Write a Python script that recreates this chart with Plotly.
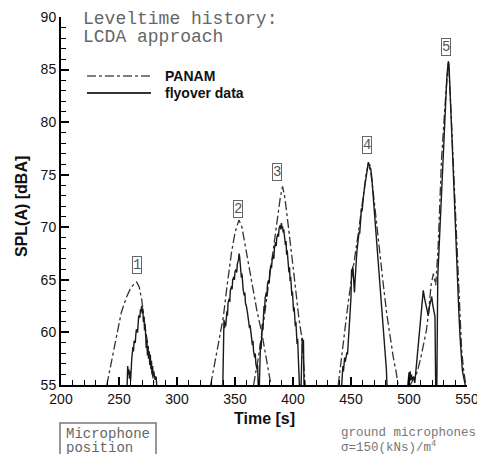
import plotly.graph_objects as go

# ---------------- data ----------------
panam_t = [239.5, 244, 248, 252, 256.6, 260, 263, 265.2, 267.5, 269.6, 272.4, 274.5, 276.7, 278.5, 280.0, None,
           329, 332, 335, 338, 340, 343, 347, 350, 353.4, 356, 358.6, 362, 365.8, 369, 373, 377, 380, 381, None,
           366, 370, 374, 378, 382, 386, 389, 391, 393, 395, 397.4, 400, 403, 405, 407.5, 409, 410.5, None,
           439, 442, 445, 448, 452, 456, 460, 463, 465, 467, 469, 472, 475, 478, 480.8, 483.5, 486.5, 489, 490.5, None,
           501, 504, 507, 510, 513, 515, 517, 519, 521, 522, 523, 525, 528, 531, 534, 536, 538, 540, 542.5, 544, 545.4, 547, 548, 549]
panam_y = [55.0, 57.6, 59.9, 61.9, 63.4, 64.2, 64.6, 64.8, 64.3, 63.1, 60.6, 59.0, 57.4, 56.2, 55.2, None,
           55.0, 56.8, 58.5, 60.2, 61.5, 64.3, 67.6, 69.5, 70.7, 70.0, 68.4, 66.2, 64.0, 62.0, 60.0, 57.3, 55.5, 55.0, None,
           55.0, 57.5, 60.5, 63.8, 67.0, 70.3, 72.8, 73.9, 72.8, 71.0, 69.0, 66.3, 63.4, 61.4, 59.6, 57.5, 55.0, None,
           55.0, 57.5, 60.5, 63.2, 66.0, 69.2, 72.5, 75.0, 76.1, 75.3, 73.5, 70.3, 67.2, 64.4, 61.8, 59.6, 57.6, 56.2, 55.0, None,
           55.0, 55.6, 56.2, 57.5, 59.0, 60.2, 62.0, 64.5, 65.6, 65.0, 64.5, 67.8, 76.4, 81.5, 85.9, 81.5, 76.4, 70.8, 64.7, 61.0, 58.3, 56.5, 55.7, 55.0]

fly_t = [257, 257.5, 258, 258.5, 259, 259.5, 260, 260.5, 261, 262, 262.5, 263, 264, 264.5, 265, 266, 266.5, 267, 268,
         268.5, 269, 269.5, 270, 270.5, 271, 271.5, 272, 272.5, 273, 273.5, 274, 274.5, 275, 275.5, 276, 276.5, 277,
         277.5, 278, 278.5, 279, 279.5, 280, 281, 282, 282.5, None,
         339.5, 340, 340.5, 341, 341.5, 342, 343, 343.5, 344, 345, 345.5, 346, 347, 347.5, 348, 349, 349.5, 350, 351,
         351.5, 352, 353, 353.5, 354, 354.5, 355, 355.5, 356, 356.5, 357, 358, 358.5, 359, 360, 361, 362, 362.5, 363,
         364, 365, 365.5, 366, 367, 367.5, 368, 369, 369.5, 370, 371,
         371.5, 372, 372.5, 373, 373.5, 374, 374.5, 375, 375.5, 376, 377, 377.5, 378, 379, 379.5, 380, 381, 381.5, 382,
         383, 383.5, 384, 385, 385.5, 386, 387, 387.5, 388, 389, 389.5, 390, 390.5, 391, 391.5, 392, 393, 393.5, 394,
         394.5, 395, 396, 396.5, 397, 397.5, 398, 398.5, 399, 399.5, 400, 400.5, 401, 401.5, 402, 402.5, 403, 403.5,
         404, 404.5, 405, 405.5, 407, 407.5, 408, 408.5, 409, 409.5, None,
         442, 442.5, 443, 443.5, 444, 444.5, 445, 446, 446.5, 447, 447.5, 448, 449, 450, 450.5, 451, 451.5, 452, 452.5,
         453, 453.5, 454, 455, 456, 457, 457.5, 458, 459, 459.5, 460, 461, 462, 463, 464, 464.5, 465, 465.5, 466, 466.5,
         467, 468, 469, 470, 471, 472, 473, 474, 475, 476, 477, 478, 479, 480, 480.5, 481, None,
         499, 500, 500.5, 501, 501.5, 502, 503, 504, 505, 506, 507, 508, 509, 510, 511, 512.3, 513.5, 514.5, 515.5,
         516.6, 517.5, 518.5, 519.6, 520.5, 521.5, 522.4, 523, 524, 524.8, 525.5, 526.5, 527.5, 528.5, 529.5, 530.5,
         531.5, 532.5, 533.2, 534, 534.5, 535, 536, 537, 538, 539, 540, 541, 542, 543, 544, 545, 546, 547, 548, 548.5]
fly_y = [55.0, 56.8, 56.0, 56.5, 55.6, 56.3, 55.4, 56.6, 57.5, 58.6, 58.2, 59.2, 59.0, 59.8, 60.3, 60.0, 61.0, 61.6, 61.4,
         62.2, 62.0, 62.5, 61.8, 62.3, 61.0, 61.5, 60.2, 60.8, 59.6, 58.5, 59.3, 57.8, 58.7, 57.5, 58.2, 56.9, 57.9,
         56.5, 57.3, 56.0, 56.8, 55.8, 56.3, 55.5, 55.8, 55.0, None,
         55.0, 60.5, 61.2, 60.4, 61.0, 60.6, 62.0, 61.6, 62.8, 63.2, 62.9, 64.0, 64.4, 64.1, 65.0, 65.3, 65.0, 65.8, 66.0,
         65.7, 66.5, 66.9, 67.5, 67.2, 66.4, 66.0, 65.2, 65.6, 64.5, 64.1, 63.5, 63.8, 62.8, 62.4, 61.7, 61.0, 60.4, 60.7,
         59.6, 58.8, 59.2, 58.2, 57.6, 58.0, 57.0, 56.5, 56.9, 55.0, 55.0,
         57.5, 59.0, 58.4, 59.5, 60.8, 60.2, 61.6, 62.5, 62.0, 63.3, 63.8, 63.4, 64.6, 65.0, 64.7, 65.8, 66.4, 66.1, 66.9,
         67.4, 67.0, 68.0, 68.6, 68.2, 69.0, 69.4, 69.1, 69.9, 70.2, 69.8, 70.4, 69.9, 70.1, 69.5, 69.8, 69.0, 68.3, 68.7,
         67.4, 67.8, 66.5, 65.7, 66.2, 64.9, 65.3, 64.1, 63.5, 63.9, 62.8, 62.0, 62.4, 61.3, 60.6, 61.0, 59.8, 58.9,
         59.4, 57.6, 56.8, 55.0, 55.0, 58.0, 59.5, 58.6, 59.3, 55.0, None,
         55.0, 56.2, 56.8, 56.3, 57.0, 57.6, 57.2, 57.8, 58.1, 57.9, 58.6, 59.8, 61.5, 63.4, 66.0, 65.6, 66.3, 65.2, 64.8,
         63.8, 64.9, 66.0, 67.6, 68.6, 69.6, 69.4, 70.5, 71.8, 71.5, 72.4, 73.2, 74.0, 74.9, 75.6, 75.9, 76.2, 75.9, 76.0, 75.5,
         75.6, 74.6, 73.2, 71.9, 70.4, 68.9, 67.3, 65.7, 64.2, 62.8, 61.3, 60.2, 59.2, 57.8, 56.5, 55.0, None,
         55.0, 56.2, 55.6, 56.3, 55.4, 56.0, 55.5, 55.8, 55.2, 56.5, 57.8, 59.2, 60.5, 61.8, 63.0, 64.0, 63.2, 62.6, 62.0,
         61.6, 62.4, 63.0, 63.4, 62.6, 62.0, 61.5, 55.0, 55.0, 65.3, 67.0, 69.5, 72.3, 75.2, 77.8, 79.9,
         82.0, 84.0, 85.0, 85.7, 85.4, 84.3, 81.5, 78.6, 75.8, 72.6, 69.5, 66.8, 64.2, 61.8, 59.6, 57.8, 56.4, 55.8, 55.3, 55.0]

x_ticks = [200, 250, 300, 350, 400, 450, 500, 550]
y_ticks = [55, 60, 65, 70, 75, 80, 85, 90]

marker_labels = ["1", "2", "3", "4", "5"]
marker_t = [265.5, 352.6, 386.2, 463.8, 532.0]
marker_y = [66.4, 71.7, 75.3, 77.8, 87.1]

# ---------------- figure ----------------
fig = go.Figure()
fig.add_trace(go.Scatter(x=panam_t, y=panam_y, mode="lines", name="PANAM",
                         line=dict(color="#333333", width=1.3, dash="dashdot"),
                         connectgaps=False, showlegend=False))
fig.add_trace(go.Scatter(x=fly_t, y=fly_y, mode="lines", name="flyover data",
                         line=dict(color="#1a1a1a", width=1.4),
                         connectgaps=False, showlegend=False))

axis_common = dict(showgrid=False, zeroline=False, showline=True, linecolor="black", linewidth=2,
                   ticks="inside", tickcolor="black", tickwidth=1.5, ticklen=8, automargin=False,
                   ticklabeloverflow="allow",
                   tickfont=dict(family="Liberation Sans, Arial", size=14, color="#111"))
fig.update_xaxes(range=[200, 550], tickvals=x_ticks,
                 minor=dict(dtick=10, ticks="inside", ticklen=5, tickcolor="black", tickwidth=1.2),
                 **axis_common)
fig.update_yaxes(range=[55, 90], tickvals=y_ticks,
                 minor=dict(dtick=1, ticks="inside", ticklen=5, tickcolor="black", tickwidth=1.2),
                 **axis_common)

ann = []
for lab, t, y in zip(marker_labels, marker_t, marker_y):
    ann.append(dict(x=t, y=y, xref="x", yref="y", text=lab, showarrow=False,
                    font=dict(family="Liberation Mono, Courier New", size=14, color="#555"),
                    bordercolor="#666", borderwidth=1, borderpad=0, bgcolor="white"))

mono = "Liberation Mono, Courier New"
sans = "Liberation Sans, Arial"
ann += [
    dict(x=81, y=19, text="Leveltime history:", showarrow=False, xanchor="left", yanchor="middle",
         font=dict(family=mono, size=18, color="#666")),
    dict(x=81, y=37, text="LCDA approach", showarrow=False, xanchor="left", yanchor="middle",
         font=dict(family=mono, size=18, color="#666")),
    dict(x=163, y=76, text="<b>PANAM</b>", showarrow=False, xanchor="left", yanchor="middle",
         font=dict(family=sans, size=14, color="#111")),
    dict(x=163, y=93, text="<b>flyover data</b>", showarrow=False, xanchor="left", yanchor="middle",
         font=dict(family=sans, size=14, color="#111")),
    dict(x=264, y=418, text="<b>Time [s]</b>", showarrow=False, xanchor="center", yanchor="middle",
         font=dict(family=sans, size=16, color="#111")),
    dict(x=21, y=207, text="<b>SPL(A) [dBA]</b>", showarrow=False, textangle=-90,
         xanchor="center", yanchor="middle",
         font=dict(family=sans, size=16, color="#111")),
    dict(x=64, y=434, text="Microphone", showarrow=False, xanchor="left", yanchor="middle",
         font=dict(family=mono, size=14, color="#666")),
    dict(x=64, y=448, text="position", showarrow=False, xanchor="left", yanchor="middle",
         font=dict(family=mono, size=14, color="#666")),
    dict(x=339, y=433, text="ground microphones", showarrow=False, xanchor="left", yanchor="middle",
         font=dict(family=mono, size=12.5, color="#777")),
    dict(x=339, y=447, text="σ=150(kNs)/m<sup>4</sup>", showarrow=False, xanchor="left", yanchor="middle",
         font=dict(family=mono, size=12.5, color="#777")),
]
W, H = 477, 454
L, R, T, B = 61, 10, 17, 69
pw, ph = W - L - R, H - T - B
for a in ann:
    if a.get("xref") != "x":
        px, py = a["x"], a["y"]
        a["x"] = (px - L) / pw
        a["y"] = 1 - (py - T) / ph
        a["xref"] = "paper"
        a["yref"] = "paper"

def px2paper(px, py):
    return (px - L) / pw, 1 - (py - T) / ph

shapes = []
x0, y0 = px2paper(87, 76); x1, _ = px2paper(151, 76)
shapes.append(dict(type="line", xref="paper", yref="paper", x0=x0, x1=x1, y0=y0, y1=y0,
                   line=dict(color="#555", width=1.3, dash="dashdot")))
x0, y0 = px2paper(87, 93); x1, _ = px2paper(151, 93)
shapes.append(dict(type="line", xref="paper", yref="paper", x0=x0, x1=x1, y0=y0, y1=y0,
                   line=dict(color="#333", width=1.8)))
bx0, by0 = px2paper(60, 423); bx1, by1 = px2paper(156, 470)
shapes.append(dict(type="rect", xref="paper", yref="paper", x0=bx0, x1=bx1, y0=by1, y1=by0,
                   line=dict(color="#777", width=1.5)))

fig.update_layout(width=W, height=H, margin=dict(l=L, r=R, t=T, b=B, autoexpand=False),
                  paper_bgcolor="white", plot_bgcolor="white",
                  annotations=ann, shapes=shapes, showlegend=False)
fig.write_html("out.html", config={"displayModeBar": False},
               post_script="document.body.style.margin='0';document.body.style.overflow='hidden';")
